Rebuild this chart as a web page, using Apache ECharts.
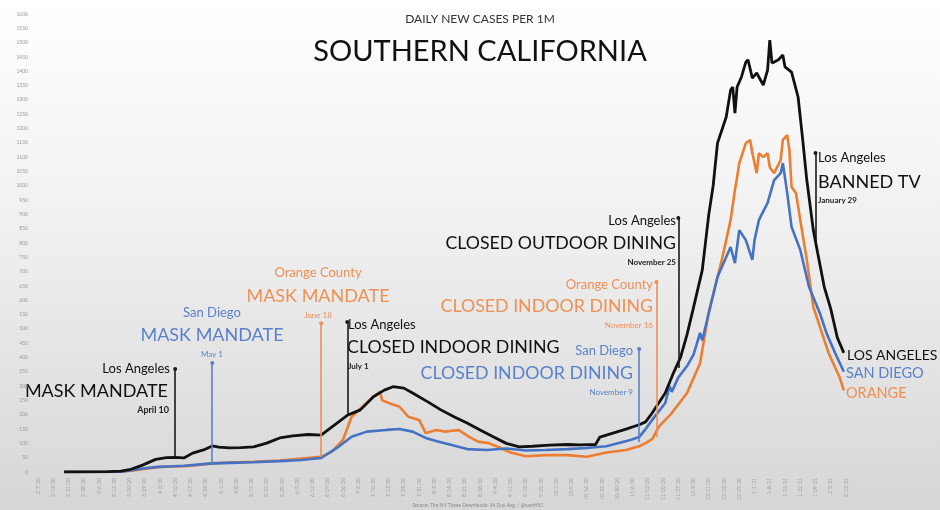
<!DOCTYPE html>
<html><head><meta charset="utf-8">
<script src="https://cdn.jsdelivr.net/npm/echarts@6/dist/echarts.min.js"></script>
<style>html,body{margin:0;padding:0;}#c{width:940px;height:510px;}</style>
</head><body><div id="c"></div>
<script>
// ---- categories: one per day, 2/7/20 .. 2/12/21 (weekly tick labels) ----
const startDate = [2020, 1, 7];
const dayCount = 372;
const categories = [];
for (let i = 0; i < dayCount; i++) {
  const d = new Date(Date.UTC(startDate[0], startDate[1], startDate[2] + i));
  categories.push((d.getUTCMonth() + 1) + '/' + d.getUTCDate() + '/' + String(d.getUTCFullYear()).slice(2));
}
const yTicks = {min: 0, max: 1600, step: 50};

// ---- Los Angeles ----
const laDates = ['2/19/20','3/10/20','3/16/20','3/20/20','3/26/20','4/1/20','4/6/20','4/10/20','4/14/20','4/18/20','4/23/20','4/27/20','4/30/20','5/5/20','5/10/20','5/16/20','5/22/20','5/28/20','6/3/20','6/10/20','6/16/20','6/21/20','6/28/20','7/4/20','7/10/20','7/15/20','7/19/20','7/24/20','7/28/20','8/4/20','8/10/20','8/16/20','8/22/20','8/28/20','9/3/20','9/9/20','9/15/20','9/21/20','9/29/20','10/7/20','10/13/20','10/20/20','10/22/20','10/28/20','11/3/20','11/9/20','11/12/20','11/15/20','11/21/20','11/25/20','11/28/20','12/1/20','12/4/20','12/8/20','12/11/20','12/13/20','12/15/20','12/19/20','12/21/20','12/22/20','12/23/20','12/24/20','12/26/20','12/28/20','12/29/20','12/31/20','1/2/21','1/5/21','1/7/21','1/8/21','1/9/21','1/10/21','1/12/21','1/14/21','1/15/21','1/18/21','1/21/21','1/23/21','1/25/21','1/28/21','1/30/21','2/2/21','2/5/21','2/8/21','2/11/21'];
const laValues = [0,1,3,8,24,44,50,51,49,66,77,91,87,84,85,88,101,119,126,131,129,158,198,217,263,286,298,293,276,245,217,193,171,147,123,100,88,90,94,96,95,96,122,136,150,165,175,206,276,350,400,480,575,705,900,1000,1149,1240,1334,1345,1254,1345,1380,1432,1440,1376,1394,1352,1404,1509,1429,1432,1440,1457,1415,1397,1310,1170,1020,845,765,647,570,470,416];

// ---- Orange County ----
const ocDates = ['2/19/20','3/10/20','3/16/20','3/20/20','3/26/20','4/2/20','4/9/20','4/14/20','4/20/20','4/27/20','5/5/20','5/16/20','5/28/20','6/7/20','6/16/20','6/21/20','6/26/20','6/30/20','7/5/20','7/10/20','7/13/20','7/14/20','7/17/20','7/22/20','7/26/20','7/31/20','8/3/20','8/8/20','8/12/20','8/18/20','8/23/20','8/27/20','9/1/20','9/5/20','9/11/20','9/18/20','9/27/20','10/7/20','10/16/20','10/25/20','11/3/20','11/9/20','11/12/20','11/15/20','11/18/20','11/24/20','12/1/20','12/7/20','12/11/20','12/17/20','12/21/20','12/23/20','12/24/20','12/25/20','12/28/20','12/30/20','12/31/20','1/2/21','1/3/21','1/5/21','1/7/21','1/8/21','1/10/21','1/13/21','1/14/21','1/16/21','1/17/21','1/18/21','1/20/21','1/22/21','1/25/21','1/28/21','1/30/21','1/31/21','2/4/21','2/9/21','2/11/21'];
const ocValues = [0,0,1,4,10,17,19,20,24,30,33,36,40,47,53,71,112,193,228,263,280,251,241,228,193,182,136,147,141,147,123,106,101,88,68,55,59,59,53,68,77,90,101,115,158,206,276,380,560,741,880,985,1030,1079,1149,1160,1114,1044,1114,1100,1114,1065,1044,1090,1160,1177,1125,996,975,880,741,576,531,507,416,332,285];

// ---- San Diego ----
const sdDates = ['2/19/20','3/10/20','3/16/20','3/20/20','3/26/20','4/2/20','4/9/20','4/14/20','4/27/20','5/5/20','5/16/20','5/28/20','6/7/20','6/16/20','6/24/20','6/30/20','7/7/20','7/16/20','7/22/20','7/28/20','8/3/20','8/9/20','8/15/20','8/22/20','8/31/20','9/9/20','9/18/20','9/27/20','10/7/20','10/16/20','10/25/20','11/5/20','11/9/20','11/12/20','11/15/20','11/21/20','11/23/20','11/24/20','11/27/20','12/1/20','12/4/20','12/7/20','12/8/20','12/11/20','12/15/20','12/21/20','12/23/20','12/25/20','12/28/20','12/31/20','1/1/21','1/3/21','1/7/21','1/10/21','1/13/21','1/14/21','1/16/21','1/18/21','1/22/21','1/26/21','1/31/21','2/3/21','2/7/21','2/11/21'];
const sdValues = [0,0,1,5,12,18,20,22,30,32,34,38,42,49,88,123,141,147,150,141,119,106,94,80,77,82,75,77,80,84,90,112,122,150,182,241,300,280,330,370,410,486,460,555,681,786,730,845,810,741,810,880,940,1020,1044,1079,975,856,776,647,555,486,416,350];

// ---- annotation lines: date, from value, to value, colour ----
const annoDates  = ['4/10/20','4/27/20','6/16/20','6/28/20','11/9/20','11/17/20','11/27/20','1/29/21'];
const annoFrom   = [50, 30, 53, 200, 105, 122, 363, 800];
const annoTo     = [360, 381, 520, 524, 430, 664, 887, 1114];
const annoColor  = ['#1a1a1a','#5b80cc','#ef8f55','#1a1a1a','#5b80cc','#ef8f55','#1a1a1a','#1a1a1a'];

const BLACK = '#111111', ORANGE = '#ed7d31', BLUE = '#4472c4';
const OT = '#ef9055', BT = '#5b80cc';
const zip = (a, b) => a.map((d, i) => [d, b[i]]);

const marks = annoDates.map((d, i) => [
  {coord: [d, annoFrom[i]], lineStyle: {color: annoColor[i], width: 1.6, type: 'solid'}},
  {coord: [d, annoTo[i]]}
]);

const F = 'Lato, "Open Sans", sans-serif';
function txt(text, x, y, size, color, align, weight) {
  return {type: 'text', silent: true, style: {text: text, x: x, y: y, fill: color, align: align || 'left', verticalAlign: 'middle',
    font: (weight || 'normal') + ' ' + size + 'px ' + F}};
}

const chart = echarts.init(document.getElementById('c'), null, {renderer: 'canvas'});
chart.setOption({
  animation: false,
  backgroundColor: {type: 'linear', x: 0, y: 0, x2: 0, y2: 1, colorStops: [
    {offset: 0, color: '#ffffff'}, {offset: 0.45, color: '#f0f0f0'}, {offset: 1, color: '#d6d6d6'}]},
  grid: {left: 38, right: 94, top: 14, bottom: 38, containLabel: false},
  xAxis: {type: 'category', data: categories, boundaryGap: false,
    axisLine: {show: false}, axisTick: {show: false}, splitLine: {show: false},
    axisLabel: {interval: 6, rotate: 90, fontSize: 5, color: '#9a9a9a', margin: 6, fontFamily: F}},
  yAxis: {type: 'value', min: yTicks.min, max: yTicks.max, interval: yTicks.step,
    axisLine: {show: false}, axisTick: {show: false}, splitLine: {show: false},
    axisLabel: {fontSize: 5, color: '#9a9a9a', margin: 10, fontFamily: F, formatter: v => String(v)}},
  series: [
    {name: 'Orange', type: 'line', data: zip(ocDates, ocValues), showSymbol: false, lineStyle: {color: ORANGE, width: 2.6}, z: 2},
    {name: 'San Diego', type: 'line', data: zip(sdDates, sdValues), showSymbol: false, lineStyle: {color: BLUE, width: 2.6}, z: 3},
    {name: 'Los Angeles', type: 'line', data: zip(laDates, laValues), showSymbol: false, lineStyle: {color: BLACK, width: 2.8}, z: 4,
      markLine: {silent: true, symbol: ['none', 'circle'], symbolSize: 4, label: {show: false}, data: marks}}
  ],
  graphic: [
    txt('DAILY NEW CASES PER 1M', 480, 19, 12, '#333', 'center'),
    txt('SOUTHERN CALIFORNIA', 480, 52, 29, '#111', 'center'),

    txt('Los Angeles', 170, 369, 13, '#111', 'right'),
    txt('MASK MANDATE', 168, 391, 18, '#111', 'right'),
    txt('April 10', 169, 410, 9, '#222', 'right', 'bold'),

    txt('San Diego', 212, 313, 13, BT, 'center'),
    txt('MASK MANDATE', 212, 335, 18, BT, 'center'),
    txt('May 1', 212, 354, 8, BT, 'center'),

    txt('Orange County', 318, 273, 13, OT, 'center'),
    txt('MASK MANDATE', 318, 296, 18, OT, 'center'),
    txt('June 18', 318, 315, 8, OT, 'center'),

    txt('Los Angeles', 348, 325, 13, '#111', 'left'),
    txt('CLOSED INDOOR DINING', 347, 347, 17.8, '#111', 'left'),
    txt('July 1', 348, 366, 8, '#222', 'left', 'bold'),

    txt('San Diego', 633, 351, 13, BT, 'right'),
    txt('CLOSED INDOOR DINING', 633, 373, 17.8, BT, 'right'),
    txt('November 9', 633, 392, 8, BT, 'right'),

    txt('Orange County', 653, 285, 13, OT, 'right'),
    txt('CLOSED INDOOR DINING', 653, 306, 17.8, OT, 'right'),
    txt('November 16', 653, 325, 8, OT, 'right'),

    txt('Los Angeles', 676, 221, 13, '#111', 'right'),
    txt('CLOSED OUTDOOR DINING', 676, 243, 17.7, '#111', 'right'),
    txt('November 25', 676, 262, 8, '#222', 'right', 'bold'),

    txt('Los Angeles', 818, 158, 13, '#111', 'left'),
    txt('BANNED TV', 818, 182, 18, '#111', 'left'),
    txt('January 29', 818, 200, 8, '#222', 'left', 'bold'),

    txt('LOS ANGELES', 847, 355, 14, '#111', 'left'),
    txt('SAN DIEGO', 846, 373, 14.5, BT, 'left'),
    txt('ORANGE', 846, 393, 14.5, OT, 'left'),

    txt('Source: The NY Times Downloads: 14 Day Avg. / @samHSC', 478, 505, 5, '#888', 'center')
  ]
});
</script></body></html>
